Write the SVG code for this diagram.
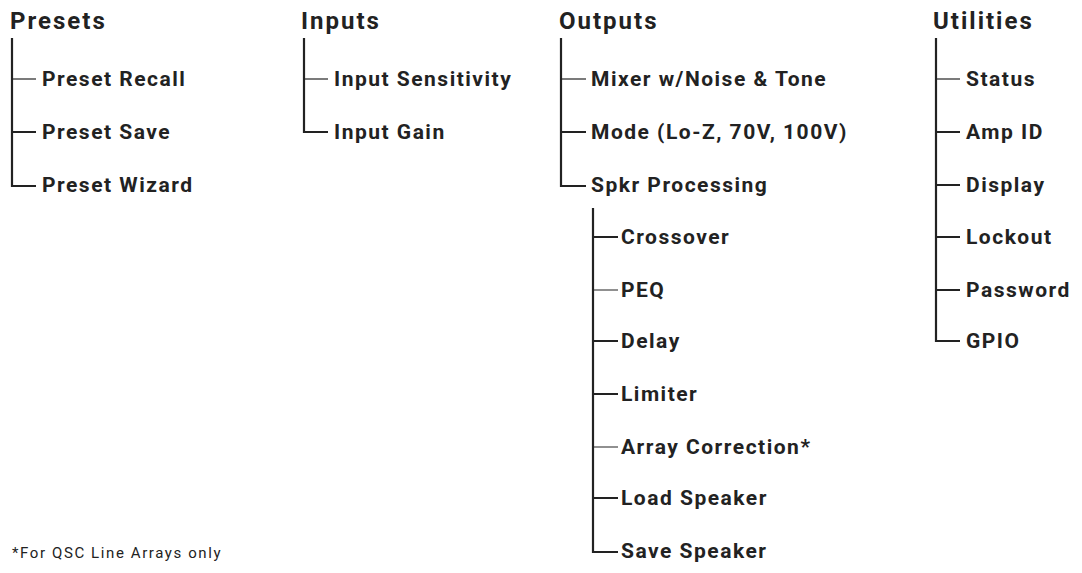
<svg xmlns="http://www.w3.org/2000/svg" width="1082" height="573" viewBox="0 0 1082 573">
<style>
.t{font-family:Roboto,"Liberation Sans",sans-serif;font-weight:700;font-size:24px;letter-spacing:2px;fill:#222}
.i{font-family:Roboto,"Liberation Sans",sans-serif;font-weight:700;font-size:21px;letter-spacing:1.5px;fill:#222}
.f{font-family:Roboto,"Liberation Sans",sans-serif;font-size:15px;letter-spacing:1.6px;fill:#222}
.l{stroke:#222;stroke-width:2.2;fill:none}
.b{stroke:#222;stroke-width:1.2;fill:none}
</style>
<rect width="1082" height="573" fill="#fff"/>
<g id="connectors">
<path class="l" d="M12 38V186H36M12 132H36"/>
<path class="b" d="M12 79H36"/>
<path class="l" d="M304 38V132H328"/>
<path class="b" d="M304 79H328"/>
<path class="l" d="M561 38V186H586M561 132H586"/>
<path class="b" d="M561 79H586"/>
<path class="l" d="M593 208V552H618M593 237H618M593 341H618M593 394H618M593 498H618"/>
<path class="b" d="M593 290H618M593 447H618"/>
<path class="l" d="M936 38V341H960M936 132H960M936 185H960M936 237H960M936 290H960"/>
<path class="b" d="M936 79H960"/>
</g>
<g id="presets"><text class="t" x="10" y="29">Presets</text></g>
<g id="preset-recall"><text class="i" x="42" y="86">Preset Recall</text></g>
<g id="preset-save"><text class="i" x="42" y="139">Preset Save</text></g>
<g id="preset-wizard"><text class="i" x="42" y="192">Preset Wizard</text></g>
<g id="inputs"><text class="t" x="301" y="29">Inputs</text></g>
<g id="input-sensitivity"><text class="i" x="334" y="86">Input Sensitivity</text></g>
<g id="input-gain"><text class="i" x="334" y="139">Input Gain</text></g>
<g id="outputs"><text class="t" x="559" y="29">Outputs</text></g>
<g id="mixer"><text class="i" x="591" y="86">Mixer w/Noise &amp; Tone</text></g>
<g id="mode"><text class="i" x="591" y="139">Mode (Lo-Z, 70V, 100V)</text></g>
<g id="spkr"><text class="i" x="591" y="192">Spkr Processing</text></g>
<g id="crossover"><text class="i" x="621" y="244">Crossover</text></g>
<g id="peq"><text class="i" x="621" y="297">PEQ</text></g>
<g id="delay"><text class="i" x="621" y="348">Delay</text></g>
<g id="limiter"><text class="i" x="621" y="401">Limiter</text></g>
<g id="array"><text class="i" x="621" y="454">Array Correction*</text></g>
<g id="load"><text class="i" x="621" y="505">Load Speaker</text></g>
<g id="save"><text class="i" x="621" y="558">Save Speaker</text></g>
<g id="utilities"><text class="t" x="933" y="29">Utilities</text></g>
<g id="status"><text class="i" x="966" y="86">Status</text></g>
<g id="ampid"><text class="i" x="966" y="139">Amp ID</text></g>
<g id="display"><text class="i" x="966" y="192">Display</text></g>
<g id="lockout"><text class="i" x="966" y="244">Lockout</text></g>
<g id="password"><text class="i" x="966" y="297">Password</text></g>
<g id="gpio"><text class="i" x="966" y="348">GPIO</text></g>
<text class="f" x="12" y="558">*For QSC Line Arrays only</text>
</svg>
